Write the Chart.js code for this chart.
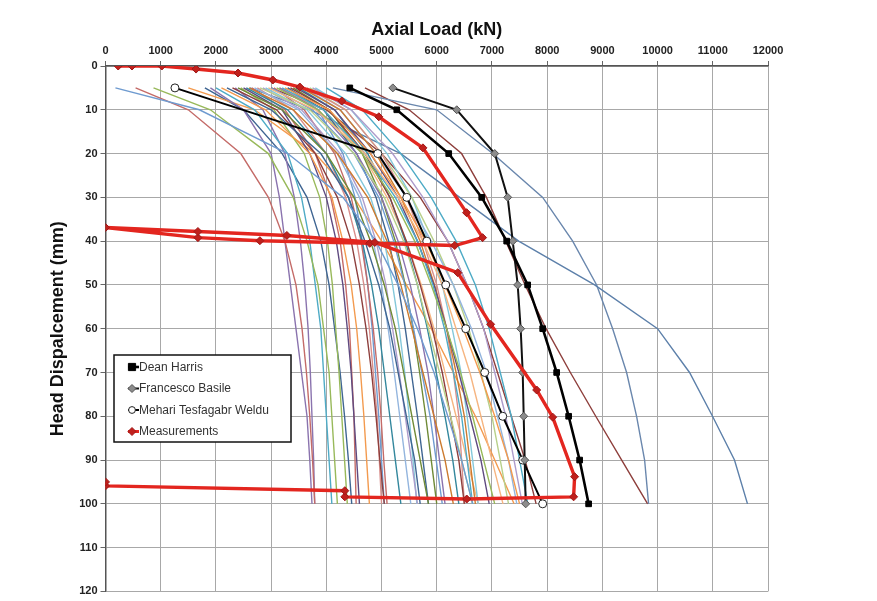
<!DOCTYPE html>
<html>
<head>
<meta charset="utf-8">
<script src="https://cdn.jsdelivr.net/npm/chart.js@4.4.1/dist/chart.umd.min.js"></script>
<style>
  html, body { margin: 0; padding: 0; background: #ffffff; }
  canvas { display: block; }
</style>
</head>
<body>
<canvas id="pileChart" width="877" height="601"></canvas>
<script>
// ---- axis ticks ----
const loadTicks = [0, 1000, 2000, 3000, 4000, 5000, 6000, 7000, 8000, 9000, 10000, 11000, 12000];
const dispTicks = [0, 10, 20, 30, 40, 50, 60, 70, 80, 90, 100, 110, 120];

// ---- displacement steps (mm) used by the predicted curves ----
const dispSteps = [5, 10, 20, 30, 40, 50, 60, 70, 80, 90, 100];

// ---- highlighted predictions (kN at each displacement step) ----
const deanHarrisLoad = [4425, 5276, 6217, 6815, 7267, 7647, 7919, 8172, 8389, 8588, 8751];
const basileLoad = [5204, 6362, 7050, 7285, 7376, 7466, 7520, 7557, 7575, 7593, 7611];
const welduDisp = [5, 20, 30, 40, 50, 60, 70, 80, 90, 100];
const welduLoad = [1258, 4932, 5457, 5819, 6163, 6525, 6869, 7195, 7557, 7919];

// ---- measured load test (load, displacement), in test order ----
const measuredLoad = [230, 480, 1020, 1640, 2400, 3030, 3520, 4280, 4950, 5750, 6540, 6830,
  6326, 4787, 2796, 1674, 0, 1674, 3285, 4878, 6380, 6976, 7810, 8100, 8497, 8479,
  6543, 4335, 4335, 0, 0];
const measuredDisp = [0, 0, 0, 0.7, 1.6, 3.2, 4.8, 8.0, 11.6, 18.7, 33.5, 39.2,
  41.0, 40.5, 39.9, 39.2, 36.9, 37.8, 38.7, 40.3, 47.2, 59.0, 74.0, 80.2, 93.8, 98.4,
  98.9, 98.4, 97.0, 95.9, 95.0];

// ---- other class predictions (kN at each displacement step) ----
const pred01 = [180, 1700, 3300, 4300, 4900, 5300, 5650, 5950, 6200, 6450, 6650];
const pred02 = [545, 1500, 2450, 2950, 3250, 3450, 3560, 3640, 3700, 3750, 3790];
const pred03 = [870, 1900, 2950, 3400, 3650, 3850, 3950, 4050, 4100, 4150, 4200];
const pred04 = [1900, 2500, 3000, 3150, 3250, 3350, 3450, 3550, 3650, 3700, 3740];
const pred05 = [2000, 2700, 3300, 3550, 3700, 3800, 3900, 3950, 4000, 4050, 4100];
const pred06 = [2100, 2900, 3700, 4100, 4300, 4450, 4550, 4620, 4680, 4730, 4780];
const pred07 = [2200, 3000, 3900, 4400, 4700, 4950, 5150, 5300, 5450, 5600, 5700];
const pred08 = [2300, 3100, 3800, 4200, 4450, 4600, 4720, 4820, 4900, 4970, 5050];
const pred09 = [2400, 3200, 4000, 4500, 4800, 5050, 5250, 5400, 5550, 5700, 5850];
const pred10 = [2500, 3200, 3700, 4000, 4180, 4300, 4380, 4450, 4500, 4550, 4600];
const pred11 = [2550, 3300, 4000, 4400, 4650, 4820, 4950, 5050, 5150, 5250, 5350];
const pred12 = [2600, 3400, 4200, 4750, 5100, 5350, 5550, 5750, 5950, 6150, 6300];
const pred13 = [2700, 3500, 4200, 4600, 4850, 5000, 5120, 5230, 5330, 5430, 5530];
const pred14 = [2750, 3400, 4000, 4350, 4550, 4680, 4780, 4850, 4920, 4960, 5000];
const pred15 = [2800, 3700, 4500, 5050, 5400, 5650, 5850, 6050, 6250, 6450, 6650];
const pred16 = [2850, 3550, 4250, 4650, 4900, 5080, 5200, 5320, 5430, 5540, 5650];
const pred17 = [2900, 3650, 4350, 4800, 5050, 5200, 5320, 5420, 5500, 5570, 5640];
const pred18 = [2950, 3800, 4700, 5300, 5750, 6100, 6350, 6600, 6800, 7000, 7200];
const pred19 = [3000, 3750, 4500, 4950, 5220, 5420, 5580, 5730, 5880, 5990, 6100];
const pred20 = [3050, 3600, 4150, 4450, 4630, 4750, 4850, 4930, 4990, 5040, 5100];
const pred21 = [3100, 3850, 4650, 5200, 5600, 5900, 6180, 6430, 6650, 6850, 7050];
const pred22 = [3150, 3850, 4550, 5000, 5300, 5520, 5690, 5840, 5950, 6050, 6150];
const pred23 = [3200, 3950, 4700, 5250, 5650, 5930, 6140, 6300, 6450, 6550, 6650];
const pred24 = [3250, 4050, 4800, 5350, 5800, 6150, 6480, 6780, 7050, 7300, 7500];
const pred25 = [3300, 3950, 4550, 4900, 5130, 5300, 5430, 5540, 5650, 5750, 5850];
const pred26 = [3350, 4050, 4700, 5150, 5450, 5700, 5920, 6100, 6250, 6400, 6500];
const pred27 = [3400, 4050, 4650, 5000, 5250, 5430, 5570, 5690, 5800, 5900, 6000];
const pred28 = [3450, 4150, 4800, 5300, 5650, 5950, 6180, 6400, 6600, 6800, 6950];
const pred29 = [3500, 4150, 4750, 5150, 5430, 5650, 5830, 5990, 6150, 6290, 6400];
const pred30 = [3550, 4250, 4900, 5350, 5700, 5960, 6180, 6350, 6500, 6600, 6700];
const pred31 = [3600, 4250, 4900, 5450, 5900, 6300, 6630, 6900, 7100, 7300, 7450];
const pred32 = [3650, 4350, 5000, 5450, 5750, 6000, 6180, 6300, 6400, 6450, 6500];
const pred33 = [3700, 4350, 5000, 5550, 5950, 6300, 6580, 6800, 7000, 7150, 7300];
const pred34 = [3750, 4450, 5200, 5750, 6200, 6550, 6850, 7050, 7250, 7400, 7550];
const pred35 = [3800, 4450, 5100, 5550, 5850, 6100, 6280, 6440, 6550, 6650, 6750];
const pred36 = [3150, 3950, 4650, 5100, 5450, 5720, 5950, 6150, 6350, 6550, 6750];
const pred37 = [3300, 3850, 4300, 4520, 4650, 4750, 4830, 4890, 4950, 5000, 5050];
const pred38 = [2650, 3250, 3800, 4080, 4250, 4350, 4420, 4460, 4500, 4520, 4540];
const pred39 = [2450, 3050, 3600, 3880, 4020, 4110, 4170, 4230, 4280, 4330, 4380];
const pred40 = [2350, 2850, 3250, 3420, 3530, 3610, 3670, 3710, 3740, 3770, 3790];
const pred41 = [4000, 4650, 5350, 5900, 6350, 6700, 6950, 7150, 7350, 7500, 7650];
const pred42 = [1500, 2700, 3800, 4500, 5000, 5450, 5900, 6300, 6700, 7050, 7400];
const pred43 = [1800, 2500, 3200, 3650, 3900, 4050, 4150, 4250, 4330, 4400, 4460];
const pred44 = [3000, 4000, 5000, 5700, 6200, 6550, 6850, 7100, 7350, 7600, 7800];
const pred45 = [2615, 3701, 5348, 6416, 7484, 8860, 10000, 10579, 10995, 11393, 11629];
const pred46 = [4118, 5999, 7014, 7919, 8462, 8896, 9186, 9439, 9620, 9765, 9837];
const pred47 = [4700, 5500, 6450, 6900, 7250, 7600, 7980, 8420, 8880, 9350, 9820];

const predictionSeries = [pred01, pred02, pred03, pred04, pred05, pred06, pred07, pred08,
  pred09, pred10, pred11, pred12, pred13, pred14, pred15, pred16, pred17, pred18, pred19,
  pred20, pred21, pred22, pred23, pred24, pred25, pred26, pred27, pred28, pred29, pred30,
  pred31, pred32, pred33, pred34, pred35, pred36, pred37, pred38, pred39, pred40, pred41,
  pred42, pred43, pred44, pred45, pred46, pred47];

// line colours for the class predictions
const palette = ['#6f9bd0', '#c46b68', '#98b95a', '#8a73ae', '#4eabc6', '#f39a4e',
  '#3f6592', '#8e3f3d', '#6f8a36', '#5f4a80', '#33879d', '#cc7a2e', '#93b5de', '#d88e8b',
  '#b8d08a', '#ad9ccb', '#84c8da', '#f6b581'];
const outlierColors = ['#5d80aa', '#6a87ad', '#8e3f3c'];

const toPoints = (xs, ys) => xs.map((v, i) => ({ x: v, y: ys[i] }));

const predictionDatasets = predictionSeries.map((loads, i) => {
  const nOut = predictionSeries.length - 3;
  const color = i >= nOut ? outlierColors[i - nOut] : palette[i % palette.length];
  return {
    label: 'Prediction ' + (i + 1),
    data: toPoints(loads, dispSteps),
    showLine: true,
    borderColor: color,
    borderWidth: 1.4,
    pointRadius: 0,
    pointHoverRadius: 0,
    order: 10
  };
});

const namedDatasets = [
  {
    label: 'Dean Harris',
    data: toPoints(deanHarrisLoad, dispSteps),
    showLine: true,
    borderColor: '#000000',
    borderWidth: 2.6,
    pointStyle: 'rect',
    pointRadius: 4,
    pointBackgroundColor: '#000000',
    pointBorderColor: '#000000',
    pointBorderWidth: 1,
    inLegend: true,
    order: 2
  },
  {
    label: 'Francesco Basile',
    data: toPoints(basileLoad, dispSteps),
    showLine: true,
    borderColor: '#111111',
    borderWidth: 2,
    pointStyle: 'rectRot',
    pointRadius: 4,
    pointBackgroundColor: '#8c8c8c',
    pointBorderColor: '#555555',
    pointBorderWidth: 1,
    inLegend: true,
    order: 3
  },
  {
    label: 'Mehari Tesfagabr Weldu',
    data: toPoints(welduLoad, welduDisp),
    showLine: true,
    borderColor: '#000000',
    borderWidth: 2,
    pointStyle: 'circle',
    pointRadius: 4,
    pointBackgroundColor: '#ffffff',
    pointBorderColor: '#222222',
    pointBorderWidth: 1,
    inLegend: true,
    order: 4
  },
  {
    label: 'Measurements',
    data: toPoints(measuredLoad, measuredDisp),
    showLine: true,
    borderColor: '#e3261f',
    borderWidth: 3.4,
    pointStyle: 'rectRot',
    pointRadius: 4,
    pointBackgroundColor: '#c0201c',
    pointBorderColor: '#a01818',
    pointBorderWidth: 1,
    inLegend: true,
    order: 1
  }
];

function drawMarker(ctx, ds, x, y) {
  const r = ds.pointRadius;
  ctx.save();
  ctx.fillStyle = ds.pointBackgroundColor;
  ctx.strokeStyle = ds.pointBorderColor;
  ctx.lineWidth = ds.pointBorderWidth;
  ctx.beginPath();
  if (ds.pointStyle === 'rect') {
    ctx.rect(x - r * 0.9, y - r * 0.9, r * 1.8, r * 1.8);
  } else if (ds.pointStyle === 'rectRot') {
    ctx.moveTo(x, y - r);
    ctx.lineTo(x + r, y);
    ctx.lineTo(x, y + r);
    ctx.lineTo(x - r, y);
    ctx.closePath();
  } else {
    ctx.arc(x, y, r * 0.85, 0, Math.PI * 2);
  }
  ctx.fill();
  ctx.stroke();
  ctx.restore();
}

// boxed legend sitting inside the plot area, lower left
const boxLegend = {
  id: 'boxLegend',
  afterDatasetsDraw(chart) {
    const ctx = chart.ctx;
    const items = chart.data.datasets.filter(d => d.inLegend);
    const bx = 114, by = 355, bw = 177, bh = 87;
    ctx.save();
    ctx.fillStyle = '#ffffff';
    ctx.fillRect(bx, by, bw, bh);
    ctx.strokeStyle = '#111111';
    ctx.lineWidth = 1.5;
    ctx.strokeRect(bx, by, bw, bh);
    ctx.font = '12px "Liberation Sans", Arial, sans-serif';
    ctx.textBaseline = 'middle';
    items.forEach((ds, i) => {
      const y = by + 12 + i * 21.5;
      ctx.strokeStyle = ds.borderColor;
      ctx.lineWidth = Math.min(ds.borderWidth, 3);
      ctx.beginPath();
      ctx.moveTo(128, y);
      ctx.lineTo(139, y);
      ctx.stroke();
      drawMarker(ctx, ds, 132, y);
      ctx.fillStyle = '#333333';
      ctx.fillText(ds.label, 139, y + 0.5);
    });
    ctx.restore();
  }
};

const tickFont = { family: '"Liberation Sans", Arial, sans-serif', size: 11, weight: 'bold' };
const titleFont = { family: '"Liberation Sans", Arial, sans-serif', size: 18, weight: 'bold' };
const plainNumber = v => String(v);

new Chart(document.getElementById('pileChart'), {
  type: 'scatter',
  data: { datasets: predictionDatasets.concat(namedDatasets) },
  options: {
    responsive: false,
    animation: false,
    events: [],
    layout: { padding: { left: 0, top: 0, right: 109, bottom: 8 } },
    plugins: {
      legend: { display: false },
      tooltip: { enabled: false }
    },
    scales: {
      x: {
        type: 'linear',
        position: 'top',
        min: loadTicks[0],
        max: loadTicks[loadTicks.length - 1],
        afterBuildTicks(scale) { scale.ticks = loadTicks.map(v => ({ value: v })); },
        afterFit(scale) { scale.height = 66; },
        ticks: { font: tickFont, color: '#222222', padding: 3, maxRotation: 0, autoSkip: false,
                 callback: plainNumber },
        grid: { color: '#a8a8a8', lineWidth: 1, tickLength: 5, tickColor: '#666666' },
        border: { display: true, color: '#555555', width: 1.5 },
        title: { display: true, text: 'Axial Load (kN)', font: titleFont, color: '#111111',
                 padding: { top: 19, bottom: 0 } }
      },
      y: {
        type: 'linear',
        reverse: true,
        min: dispTicks[0],
        max: dispTicks[dispTicks.length - 1],
        afterBuildTicks(scale) { scale.ticks = dispTicks.map(v => ({ value: v })); },
        afterFit(scale) { scale.width = 105.5; },
        ticks: { font: tickFont, color: '#222222', padding: 3, autoSkip: false,
                 callback: plainNumber },
        grid: { color: '#a8a8a8', lineWidth: 1, tickLength: 5, tickColor: '#666666' },
        border: { display: true, color: '#555555', width: 1.5 },
        title: { display: true, text: 'Head Dispalcement (mm)', font: titleFont, color: '#111111',
                 padding: { top: 47, bottom: 0 } }
      }
    }
  },
  plugins: [boxLegend]
});
</script>
</body>
</html>
